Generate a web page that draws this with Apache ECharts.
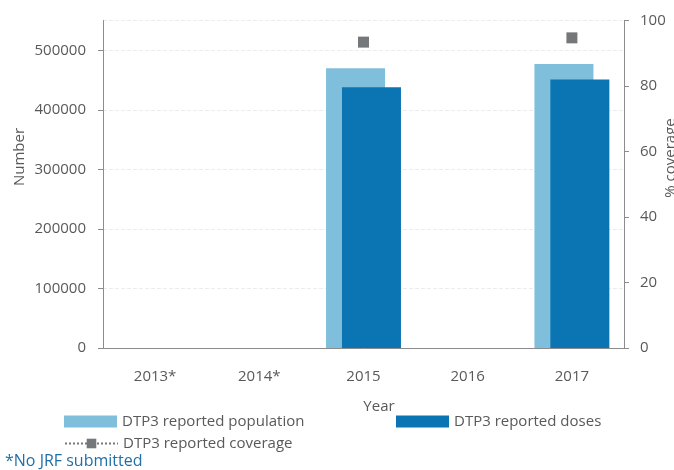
<!DOCTYPE html>
<html>
<head>
<meta charset="utf-8">
<script src="https://cdn.jsdelivr.net/npm/echarts@6/dist/echarts.min.js"></script>
<style>
  html, body { margin: 0; padding: 0; background: #fff; }
  #chart { width: 674px; height: 470px; }
</style>
</head>
<body>
<div id="chart"></div>
<script>
  // data
  var years = ['2013*', '2014*', '2015', '2016', '2017'];
  var population = [null, null, 470000, null, 477000];
  var doses = [null, null, 438000, null, 451000];
  var coverage = [null, null, 93.4, null, 94.7];

  var grey = '#595959';
  var axisGrey = '#8c8c8c';
  var font = 'Open Sans';

  var chart = echarts.init(document.getElementById('chart'));
  chart.setOption({
    animation: false,
    textStyle: { fontFamily: font },
    grid: { left: 103, right: 50, top: 20.5, bottom: 122 },
    legend: [
      {
        left: 59, top: 409, itemWidth: 53, itemHeight: 12, icon: 'rect',
        data: ['DTP3 reported population'],
        textStyle: { color: grey, fontSize: 15, fontFamily: font }
      },
      {
        left: 391, top: 409, itemWidth: 53, itemHeight: 12, icon: 'rect',
        data: ['DTP3 reported doses'],
        textStyle: { color: grey, fontSize: 15, fontFamily: font }
      },
      {
        left: 59, top: 431, itemWidth: 53, itemHeight: 12,
        data: ['DTP3 reported coverage'],
        textStyle: { color: grey, fontSize: 15, fontFamily: font }
      }
    ],
    xAxis: {
      type: 'category',
      data: years,
      axisLine: { lineStyle: { color: axisGrey } },
      axisTick: { length: 5, lineStyle: { color: axisGrey } },
      axisLabel: { color: grey, fontSize: 15, margin: 21 }
    },
    yAxis: [
      {
        type: 'value',
        min: 0, max: 550000, interval: 100000,
        axisLine: { show: true, lineStyle: { color: axisGrey } },
        axisTick: { show: true, length: 5, lineStyle: { color: axisGrey } },
        axisLabel: {
          color: grey, fontSize: 15, margin: 17, showMaxLabel: false,
          formatter: function (v) { return String(v); }
        },
        splitLine: { show: true, lineStyle: { color: '#ececec', type: 'dashed' } }
      },
      {
        type: 'value',
        min: 0, max: 100, interval: 20,
        position: 'right',
        axisLine: { show: true, lineStyle: { color: axisGrey } },
        axisTick: { show: true, length: 5, lineStyle: { color: axisGrey } },
        axisLabel: { color: grey, fontSize: 15, margin: 16 },
        splitLine: { show: false }
      }
    ],
    graphic: [
      {
        type: 'text', rotation: Math.PI / 2, x: 20, y: 157,
        style: { text: 'Number', fill: grey, font: '15px "Open Sans"', textAlign: 'center', textVerticalAlign: 'middle' }
      },
      {
        type: 'text', rotation: Math.PI / 2, x: 671, y: 158,
        style: { text: '% coverage', fill: grey, font: '15px "Open Sans"', textAlign: 'center', textVerticalAlign: 'middle' }
      },
      {
        type: 'text', x: 379, y: 407,
        style: { text: 'Year', fill: grey, font: '15px "Open Sans"', textAlign: 'center', textVerticalAlign: 'middle' }
      },
      {
        type: 'text', x: 5, y: 461,
        style: { text: '*No JRF submitted', fill: '#1f6fa8', font: '16px "Open Sans"', textAlign: 'left', textVerticalAlign: 'middle' }
      }
    ],
    series: [
      {
        name: 'DTP3 reported population',
        type: 'bar',
        data: population,
        barWidth: 59,
        barGap: '-73%',
        itemStyle: { color: '#80bfdb' }
      },
      {
        name: 'DTP3 reported doses',
        type: 'bar',
        data: doses,
        barWidth: 59,
        itemStyle: { color: '#0b74b3' }
      },
      {
        name: 'DTP3 reported coverage',
        type: 'line',
        yAxisIndex: 1,
        data: coverage,
        symbol: 'rect',
        symbolSize: 11,
        showSymbol: true,
        connectNulls: false,
        itemStyle: { color: '#75787b' },
        lineStyle: { color: '#75787b', width: 1, type: 'dotted' }
      }
    ]
  });
</script>
</body>
</html>
